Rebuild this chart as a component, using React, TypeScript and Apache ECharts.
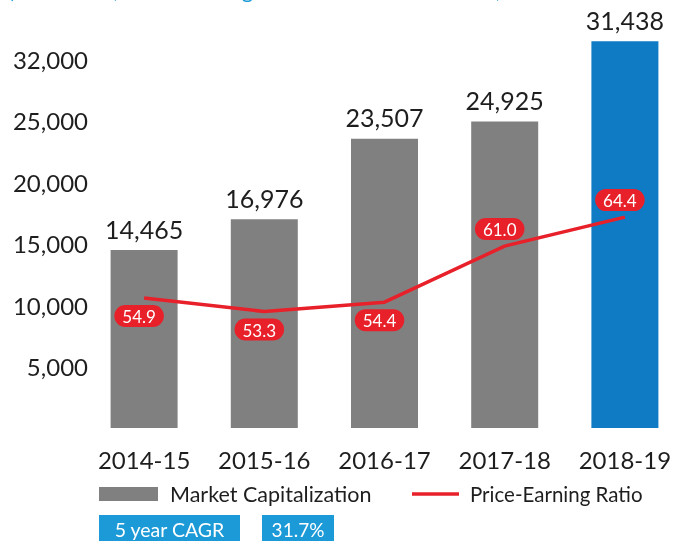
import React, { useEffect, useRef } from "react";
import * as echarts from "echarts";

const categories = ["2014-15", "2015-16", "2016-17", "2017-18", "2018-19"];
const marketCap = [14465, 16976, 23507, 24925, 31438];
const peRatio = [54.9, 53.3, 54.4, 61.0, 64.4];
const yTickLabels = ["", "5,000", "10,000", "15,000", "20,000", "25,000", "32,000"];
const legendNames = ["Market Capitalization", "Price-Earning Ratio"];
const cagrLabel = "5 year CAGR";
const cagrValue = "31.7%";
const topNote = "(₹ in billion, Price-Earning Ratio in number of times, as of the end of every financial year)";

const FONT = "Lato";
const GRAY = "#808080";
const BLUE = "#0f7bc4";
const RED = "#e8202a";
const LIGHT_BLUE = "#1b9ad7";
const TEXT = "#1e1e1e";

export default function App() {
  const ref = useRef<HTMLDivElement>(null);
  useEffect(() => {
    if (!ref.current) return;
    const chart = echarts.init(ref.current, undefined, { renderer: "svg" });
    const last = marketCap.length - 1;
    chart.setOption({
      animation: false,
      textStyle: { fontFamily: FONT },
      grid: { left: 84, right: -10, top: 34.4, bottom: 113 },
      xAxis: {
        type: "category",
        data: categories,
        axisLine: { show: false },
        axisTick: { show: false },
        axisLabel: { color: TEXT, fontSize: 24, margin: 19, fontFamily: FONT, interval: 0, hideOverlap: false },
      },
      yAxis: [
        {
          type: "value",
          min: 0,
          max: 32000,
          interval: 5000,
          splitLine: { show: false },
          axisLine: { show: false },
          axisTick: { show: false },
          axisLabel: {
            color: TEXT,
            fontSize: 24,
            margin: -4,
            fontFamily: FONT,
            showMaxLabel: false,
            formatter: (v: number) => {
              const i = Math.round(v / 5000);
              return v % 5000 === 0 && i < yTickLabels.length ? yTickLabels[i] : "";
            },
          },
        },
        {
          type: "value",
          min: 39.6,
          max: 85.9,
          show: false,
          splitLine: { show: false },
        },
      ],
      series: [
        {
          type: "bar",
          name: legendNames[0],
          barWidth: 67,
          data: marketCap.map((v, i) => ({
            value: v,
            itemStyle: { color: i === last ? BLUE : GRAY },
          })),
          label: {
            show: true,
            position: "top",
            distance: 9,
            color: TEXT,
            fontSize: 25,
            fontFamily: FONT,
            formatter: (p: any) => p.value.toLocaleString("en-US"),
          },
        },
        {
          type: "line",
          name: legendNames[1],
          yAxisIndex: 1,
          symbol: "circle",
          symbolSize: 0.1,
          itemStyle: { color: RED },
          lineStyle: { color: RED, width: 3.5 },
          data: peRatio.map((v, i) => ({
            value: v,
            label: {
              position: i >= 3 ? "top" : "bottom",
              distance: i >= 3 ? 6 : 7,
              offset: [-5, 0],
            },
          })),
          label: {
            show: true,
            color: "#fff",
            fontSize: 17,
            fontFamily: FONT,
            backgroundColor: RED,
            borderRadius: 12,
            padding: [3, 8, 2, 8],
            formatter: (p: any) => p.value.toFixed(1),
          },
          z: 5,
        },
      ],
      graphic: [
        {
          type: "text",
          left: 8,
          top: -22,
          style: { text: topNote, fill: LIGHT_BLUE, fontSize: 22, fontFamily: FONT },
        },
        { type: "rect", shape: { x: 99, y: 487, width: 59, height: 14 }, style: { fill: GRAY } },
        {
          type: "text",
          x: 170,
          y: 494,
          style: { text: legendNames[0], fill: TEXT, fontSize: 21.5, fontFamily: FONT, verticalAlign: "middle" },
        },
        { type: "line", shape: { x1: 412, y1: 494, x2: 459, y2: 494 }, style: { stroke: RED, lineWidth: 3.5 } },
        {
          type: "text",
          x: 470,
          y: 494,
          style: { text: legendNames[1], fill: TEXT, fontSize: 20.5, fontFamily: FONT, verticalAlign: "middle" },
        },
        { type: "rect", shape: { x: 99, y: 515, width: 141, height: 30 }, style: { fill: LIGHT_BLUE } },
        {
          type: "text",
          x: 169.5,
          y: 529,
          style: { text: cagrLabel, fill: "#fff", fontSize: 19.5, fontFamily: FONT, align: "center", verticalAlign: "middle" },
        },
        { type: "rect", shape: { x: 262, y: 515, width: 72, height: 30 }, style: { fill: LIGHT_BLUE } },
        {
          type: "text",
          x: 298,
          y: 529,
          style: { text: cagrValue, fill: "#fff", fontSize: 19, fontFamily: FONT, align: "center", verticalAlign: "middle" },
        },
      ],
    });
    return () => chart.dispose();
  }, []);
  return (
    <div
      ref={ref}
      style={{ position: "fixed", left: 0, top: 0, width: 685, height: 541 }}
    />
  );
}
